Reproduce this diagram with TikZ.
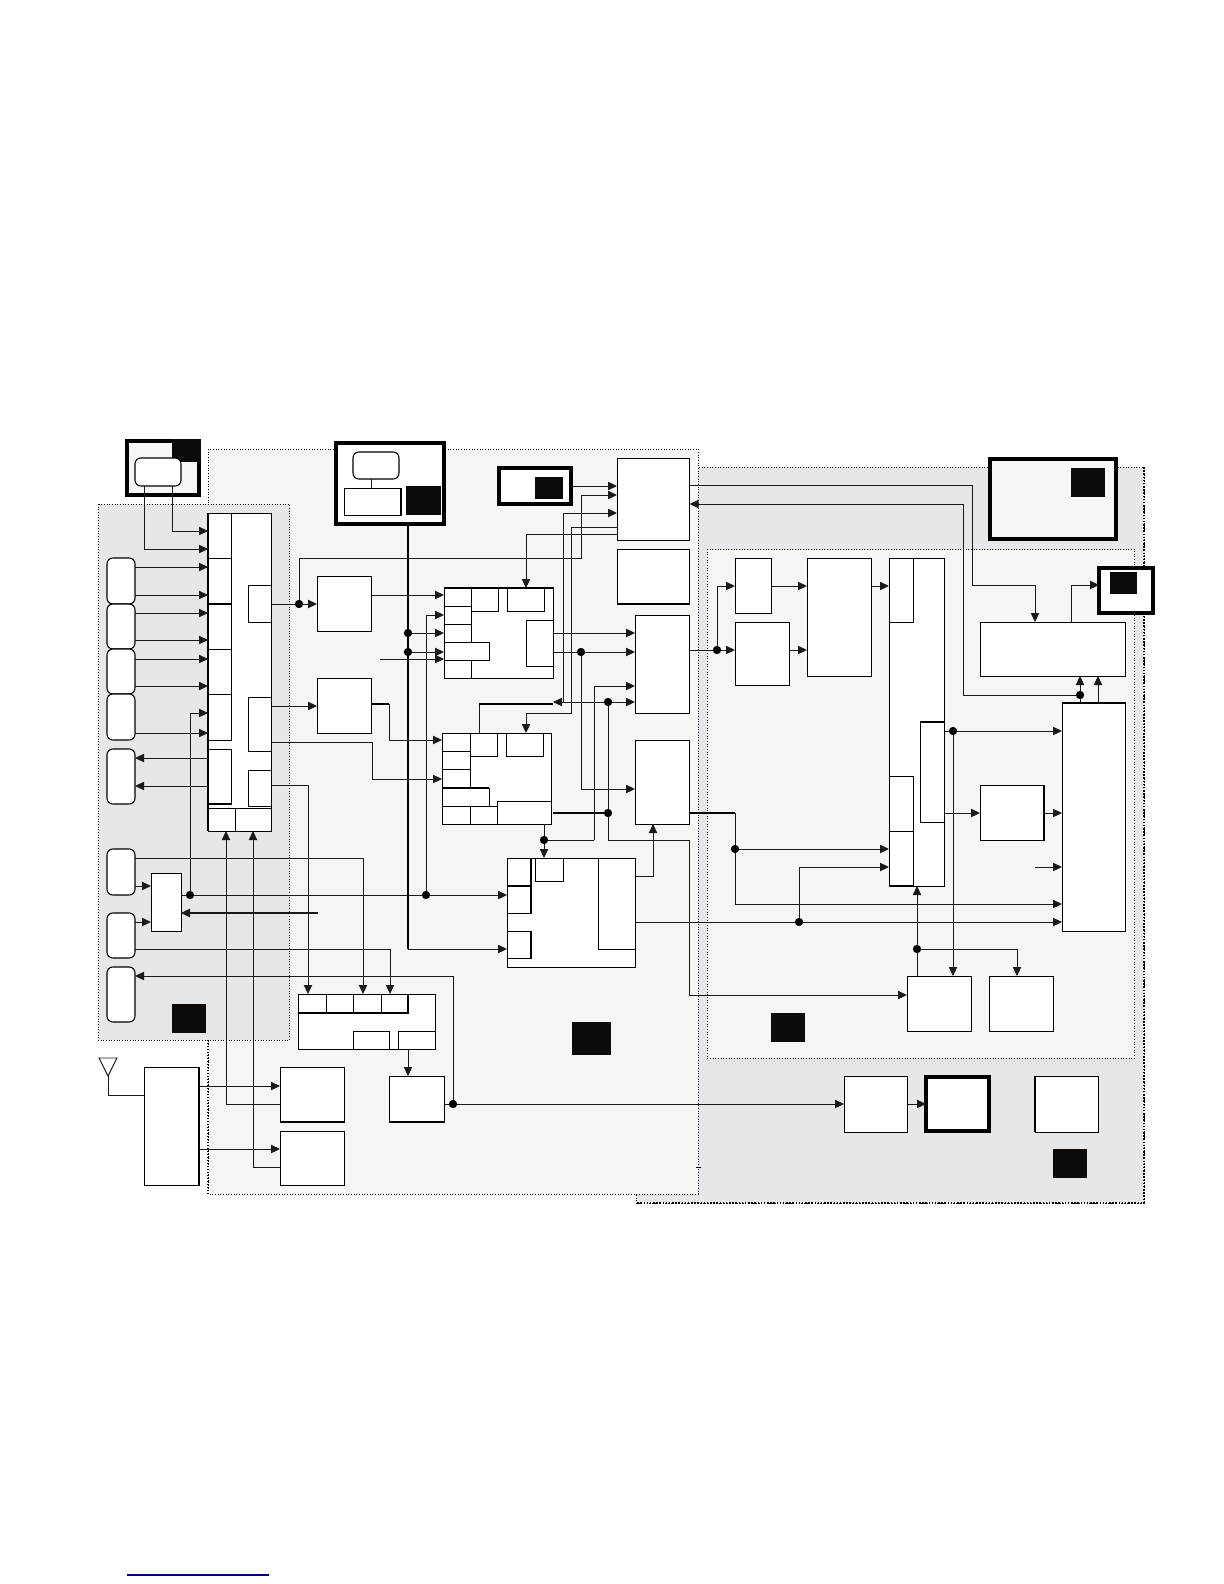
\documentclass[tikz,border=0pt]{standalone}
\usepackage{xcolor}
\usepackage{tikz}
\usetikzlibrary{arrows.meta,calc}
\definecolor{panelGray}{HTML}{E6E7E9}
\definecolor{panelPale}{HTML}{F6F6F5}
\definecolor{wireInk}{HTML}{1A1A1A}
\definecolor{maskInk}{HTML}{0C0B0A}
\definecolor{linkNavy}{HTML}{000080}
\newcommand{\pxu}{0.6pt}
\tikzset{
    >={Triangle[length=5.4pt,width=5pt]},
    pane/.style={draw=black, densely dotted, line width=0.6pt},
    blk/.style={draw=black, fill=white, line width=0.55pt, inner sep=0pt, outer sep=0pt},
    heavy/.style={blk, line width=2.2pt},
    pad/.style={blk, rounded corners=3.5pt, line width=0.65pt},
    mask/.style={fill=maskInk, draw=none, inner sep=0pt, outer sep=0pt},
    dot/.style={circle, fill=black, inner sep=0pt, outer sep=0pt, minimum size=5pt},
    wire/.style={-, line width=0.55pt, draw=wireInk},
    arrow/.style={->, line width=0.55pt, draw=wireInk},
    edge/.style={line width=1.1pt, draw=black},
    bus/.style={-, line width=1.1pt, draw=black},
    busarrow/.style={->, line width=1pt, draw=black}
}
% box given by its two corners in pixels of the page
\newcommand{\pxbox}[6][blk]{\node[#1, minimum width={(#5-#3)*\pxu}, minimum height={(#6-#4)*\pxu}] (#2) at ({(#3+#5)/2},{(#4+#6)/2}) {};}
\begin{document}
\begin{tikzpicture}[x=0.6pt,y=-0.6pt]
\useasboundingbox (0,0) rectangle (1224,1584);
% panels
\draw[pane, fill=panelGray] (636,467) rectangle (1144,1203);
\draw[pane, line width=0.9pt] (1144,467) -- (1144,1203) -- (636,1203);
\draw[pane, fill=panelPale] (208,449) rectangle (698,1194);
\draw[pane, fill=panelPale] (707,549) rectangle (1134.5,1058);
\draw[pane, fill=panelGray] (98,504) rectangle (289.5,1040);
\draw[pane, line width=0.8pt] (208,1040) -- (208,1194);
\draw[line width=0.5pt] (696,1167) -- (701,1167);
\draw[line width=0.9pt, linkNavy] (127,1575) -- (269,1575);

% top left
\pxbox[heavy, fill=panelPale]{hdrbox}{127}{441}{199}{495}
\pxbox[mask]{hdrmask}{172}{439}{201}{462}
\pxbox[pad]{hdrpad}{135}{458}{181}{486}
% controller column
\pxbox{ctrl}{208}{513}{271}{831}
\pxbox{ctrlA}{208}{513}{231}{558}
\pxbox{ctrlB}{208}{558}{231}{604}
\pxbox{ctrlC}{208}{604}{231}{649}
\pxbox{ctrlD}{208}{649}{231}{694}
\pxbox{ctrlE}{208}{694}{231}{740}
\pxbox{ctrlF}{208}{749}{231}{804}
\pxbox{ctrlG}{208}{808}{235}{831}
\pxbox{ctrlH}{235}{808}{271}{831}
\pxbox{portA}{248}{585}{271}{622}
\pxbox{portB}{248}{697}{271}{751}
\pxbox{portC}{248}{770}{271}{806}
\draw[edge] (ctrl.north west) -- (ctrl.south west);
\draw[edge] (ctrlB.south west) -- (ctrlB.south east);
\draw[edge] (ctrlF.south west) -- (ctrlF.south east);
% left pads
\pxbox[pad]{padA}{107}{558}{135}{604}
\pxbox[pad]{padB}{107}{604}{135}{649}
\pxbox[pad]{padC}{107}{649}{135}{694}
\pxbox[pad]{padD}{107}{694}{135}{740}
\pxbox[pad]{padE}{107}{749}{135}{804}
\pxbox[pad]{padF}{107}{849}{135}{895}
\pxbox[pad]{padG}{107}{913}{135}{958}
\pxbox[pad]{padH}{107}{967}{135}{1022}
\pxbox{mux}{151}{873}{181}{931}
\pxbox[mask]{leftmask}{172}{1004}{206}{1033}
% antenna and tuner
\pxbox{rfbox}{144}{1067}{199}{1185}
\pxbox{rfA}{280}{1067}{344.5}{1122}
\pxbox{rfB}{280}{1131}{344.5}{1185}
\pxbox{drv}{389}{1076}{444.5}{1122}
\pxbox{bank}{298}{994}{435.5}{1049}
\pxbox{bankA}{298}{994}{326}{1013}
\pxbox{bankB}{326}{994}{353}{1013}
\pxbox{bankC}{353}{994}{381}{1013}
\pxbox{bankD}{381}{994}{408}{1013}
\pxbox{bankE}{353}{1031}{389}{1049}
\pxbox{bankF}{398}{1031}{435.5}{1049}
\draw[edge] (bankA.south west) -- (bankD.south east) -- (bankD.north east);
\draw[edge] (rfA.south west) -- (rfA.south east);
\draw[edge] (drv.south west) -- (drv.south east);
\draw[edge] (rfbox.north east) -- (rfbox.south east);
% top middle
\pxbox[heavy]{topbox}{336}{443}{444}{524}
\pxbox[pad]{toppad}{353}{452}{399}{479}
\pxbox{toprect}{344}{488}{401}{515}
\draw[edge] (toprect.north east) -- (toprect.south east);
\pxbox[mask]{topmask}{406}{486}{441}{515}
\pxbox[heavy]{smallbox}{499}{468}{571}{504}
\pxbox[mask]{smallmask}{535}{477}{563}{499}
\pxbox{boxA}{617}{458}{689.5}{540}
\pxbox{boxB}{617}{549}{689.5}{604}
\draw[edge] (boxB.south west) -- (boxB.south east);
\pxbox{boxC}{635}{615}{689.5}{713}
\pxbox{boxD}{635}{740}{689.5}{824}
\pxbox{chanH}{317}{576}{371.5}{631}
\pxbox{chanI}{317}{678}{371.5}{733}
% upper processor
\pxbox{procE}{444}{588}{553.5}{678}
\pxbox{procEa}{444}{588}{471}{606}
\pxbox{procEb}{444}{606}{471}{624}
\pxbox{procEc}{444}{624}{471}{642}
\pxbox{procEd}{444}{642}{489}{660}
\pxbox{procEe}{444}{660}{471}{678}
\pxbox{procEf}{471}{588}{498}{611}
\pxbox{procEg}{507}{588}{544}{611}
\pxbox{procEh}{526}{620}{553.5}{666}
\draw[edge] (procE.north west) -- (procE.north east);
% lower processor
\pxbox{procF}{442}{733}{551.5}{824}
\pxbox{procFa}{442}{733}{470}{751}
\pxbox{procFb}{442}{751}{470}{769}
\pxbox{procFc}{442}{769}{470}{788}
\pxbox{procFd}{442}{806}{470}{824}
\pxbox{procFe}{470}{806}{497}{824}
\pxbox{procFf}{442}{788}{489}{806}
\pxbox{procFg}{470}{733}{497}{756}
\pxbox{procFh}{506}{733}{543}{756}
\pxbox{procFi}{497}{801}{551.5}{824}
\draw[edge] (procFf.north west) -- (procFf.north east);
% mixer
\pxbox{mixG}{507}{858}{635.5}{967}
\pxbox{mixGa}{507}{858}{531}{886}
\pxbox{mixGb}{507}{886}{531}{913}
\pxbox{mixGc}{507}{931}{531}{958}
\pxbox{mixGd}{535}{858}{563}{881}
\pxbox{mixGe}{598}{858}{635.5}{949}
\draw[edge] (mixGa.north east) -- (mixGb.south east);
\draw[edge] (mixGb.north west) -- (mixGb.north east);
\draw[edge] (mixGc.north east) -- (mixGc.south east);
\pxbox[mask]{midmask}{572}{1022}{611}{1055}
% right side
\pxbox[heavy, fill=panelPale]{bigbox}{990}{459}{1116}{539}
\pxbox[mask]{bigmask}{1071}{468}{1105}{497}
\pxbox[heavy]{tinybox}{1099}{568}{1153}{613}
\pxbox[mask]{tinymask}{1110}{572}{1137}{594}
\pxbox{boxK}{735}{558}{771.5}{613}
\pxbox{boxL}{735}{622}{789.5}{685}
\pxbox{boxM}{807}{558}{871.5}{676}
\pxbox{colN}{889}{558}{944.5}{886}
\pxbox{colNa}{889}{558}{913}{622}
\pxbox{colNb}{889}{776}{913}{831}
\pxbox{colNc}{889}{831}{913}{886}
\draw[edge] (colNc.south west) -- (colNc.south east);
\pxbox{colNd}{920}{722}{944.5}{822}
\draw[edge] (colNd.north west) -- (colNd.north east) -- (colNd.south east);
\pxbox{wideJ}{980}{622}{1125.5}{676}
\pxbox{colO}{1062}{703}{1125.5}{931}
\draw[edge] (colO.north west) -- (colO.north east);
\pxbox{boxP}{980}{785}{1044}{840}
\draw[edge] (boxP.north east) -- (boxP.south east);
\pxbox{boxQ}{907}{976}{971.5}{1031}
\pxbox{boxR}{989}{976}{1053.5}{1031}
\pxbox[mask]{rightmask}{771}{1013}{805}{1042}
\pxbox{boxS}{844}{1076}{907.5}{1132}
\pxbox[heavy]{boxT}{926}{1077}{989}{1131}
\pxbox{boxU}{1035}{1076}{1098.5}{1132}
\draw[edge] (boxU.north west) -- (boxU.south west);
\pxbox[mask]{lowmask}{1053}{1149}{1087}{1178}

% junctions
\node[dot] (jA) at (299,604) {};
\node[dot] (jB) at (408,633) {};
\node[dot] (jC) at (408,652) {};
\node[dot] (jD) at (190,895) {};
\node[dot] (jE) at (426,895) {};
\node[dot] (jF) at (453,1104) {};
\node[dot] (jG) at (581,652) {};
\node[dot] (jH) at (608,702) {};
\node[dot] (jI) at (608,813) {};
\node[dot] (jJ) at (544,840) {};
\node[dot] (jK) at (717,650) {};
\node[dot] (jL) at (953,731) {};
\node[dot] (jM) at (1080,695) {};
\node[dot] (jN) at (735,849) {};
\node[dot] (jO) at (799,922) {};
\node[dot] (jP) at (917,949) {};
% free ends
\coordinate (busin) at (380,659);
\coordinate (muxin) at (318,913);
\coordinate (colin) at (1035,867);

% antenna
\coordinate (antapex) at (108,1076);
\draw[wire] (99,1058) -- (117,1058) -- (antapex) -- cycle;
\draw[wire] (antapex) -- (108,1095) -- (rfbox.west |- 0,1095);
\draw[arrow] (rfbox.east |- 0,1086) -- (rfA.west |- 0,1086);
\draw[arrow] (rfbox.east |- 0,1149) -- (rfB.west |- 0,1149);
\draw[arrow] (rfA.west |- 0,1104) -- (226,1104) -- (226,0 |- ctrl.south);
\draw[arrow] (rfB.west |- 0,1167) -- (253,1167) -- (253,0 |- ctrl.south);
% top left links
\draw[arrow] (172,0 |- hdrpad.south) -- (172,531) -- (ctrl.west |- 0,531);
\draw[arrow] (144,0 |- hdrpad.south) -- (144,549) -- (ctrl.west |- 0,549);
% pads to controller
\foreach \src/\yy in {padA/567,padA/595,padB/613,padB/640,padC/659,padC/686,padD/733}{
    \draw[arrow] (\src.east |- 0,\yy) -- (ctrl.west |- 0,\yy);
}
\draw[arrow] (ctrl.west |- 0,758) -- (padE.east |- 0,758);
\draw[arrow] (ctrl.west |- 0,786) -- (padE.east |- 0,786);
\draw[arrow] (padF.east |- 0,886) -- (mux.west |- 0,886);
\draw[arrow] (padG.east |- 0,922) -- (mux.west |- 0,922);
\draw[arrow, line width=0.7pt] (muxin) -- (mux.east |- muxin);
\draw[wire] (mux.east |- jD) -- (jD);
\draw[arrow] (jD) -- (jD |- 0,713) -- (ctrl.west |- 0,713);
\draw[wire] (jD) -- (jE);
\draw[arrow] (jE) -- (mixG.west |- jE);
\draw[arrow] (jE) -- (jE |- 0,615) -- (procE.west |- 0,615);
\draw[arrow] (padF.east |- 0,858) -- (363,858) -- (363,0 |- bank.north);
\draw[arrow] (padG.east |- 0,949) -- (390,949) -- (390,0 |- bank.north);
\draw[arrow] (jF) -- (453,976) -- (padH.east |- 0,976);
% controller outputs
\draw[wire] (ctrl.east |- jA) -- (jA);
\draw[arrow] (jA) -- (chanH.west |- jA);
\draw[arrow] (jA) -- (jA |- 0,558) -- (581,558) -- (581,495) -- (boxA.west |- 0,495);
\draw[arrow] (ctrl.east |- 0,706) -- (chanI.west |- 0,706);
\draw[arrow] (ctrl.east |- 0,742) -- (372,742) -- (372,779) -- (procF.west |- 0,779);
\draw[arrow] (ctrl.east |- 0,785) -- (308,785) -- (308,0 |- bank.north);
\draw[arrow] (chanH.east |- 0,595) -- (procE.west |- 0,595);
\draw[bus] (chanI.east |- 0,704) -- (389,704);
\draw[arrow] (389,704) -- (389,740) -- (procF.west |- 0,740);
% top bus
\draw[wire] (toppad.south -| 371,0) -- (toprect.north -| 371,0);
\draw[bus] (408,0 |- topbox.south) -- (408,949);
\draw[arrow] (408,949) -- (mixG.west |- 0,949);
\draw[arrow] (jB) -- (procE.west |- jB);
\draw[arrow] (jC) -- (procE.west |- jC);
\draw[arrow] (busin) -- (procE.west |- busin);
\draw[arrow] (bank.south -| 408,0) -- (drv.north -| 408,0);
\draw[wire] (drv.east |- jF) -- (jF);
\draw[arrow] (jF) -- (boxS.west |- jF);
\draw[arrow] (boxS.east |- jF) -- (boxT.west |- jF);
% box A links
\draw[arrow] (smallbox.east |- 0,486) -- (boxA.west |- 0,486);
\draw[arrow] (563,702) -- (563,513) -- (boxA.west |- 0,513);
\draw[wire] (boxA.west |- 0,527) -- (571,527) -- (571,713) -- (526,713);
\draw[arrow] (526,713) -- (526,0 |- procF.north);
\draw[arrow] (boxA.west |- 0,534) -- (526,534) -- (526,0 |- procE.north);
\draw[wire] (479,0 |- procF.north) -- (479,704);
\draw[bus] (479,704) -- (553,704);
\draw[arrow] (jH) -- (553,702);
\draw[arrow] (jH) -- (boxC.west |- jH);
\draw[wire] (jH) -- (jI);
\draw[bus] (553,813) -- (jI);
\draw[wire] (jI) -- (608,840) -- (689,840) -- (689,995);
\draw[arrow] (689,995) -- (boxQ.west |- 0,995);
\draw[arrow] (jJ) -- (jJ |- mixG.north);
\draw[wire] (jJ |- procF.south) -- (jJ);
\draw[wire] (jJ) -- (594,840);
\draw[arrow] (594,840) -- (594,686) -- (boxC.west |- 0,686);
\draw[arrow] (procE.east |- 0,633) -- (boxC.west |- 0,633);
\draw[wire] (procE.east |- jG) -- (jG);
\draw[arrow] (jG) -- (boxC.west |- jG);
\draw[arrow] (jG) -- (jG |- 0,789) -- (boxD.west |- 0,789);
\draw[arrow] (mixG.east |- 0,876) -- (653,876) -- (653,0 |- boxD.south);
% right side links
\draw[arrow] (boxA.east |- 0,485) -- (972,485) -- (972,585) -- (1035,585) -- (1035,0 |- wideJ.north);
\draw[arrow] (jM) -- (963,695) -- (963,504) -- (boxA.east |- 0,504);
\draw[arrow] (1071,0 |- wideJ.north) -- (1071,585) -- (tinybox.west |- 0,585);
\draw[wire] (boxC.east |- jK) -- (jK);
\draw[arrow] (jK) -- (boxL.west |- jK);
\draw[arrow] (jK) -- (jK |- 0,586) -- (boxK.west |- 0,586);
\draw[arrow] (boxK.east |- 0,586) -- (boxM.west |- 0,586);
\draw[arrow] (boxL.east |- 0,650) -- (boxM.west |- 0,650);
\draw[arrow] (boxM.east |- 0,586) -- (colN.west |- 0,586);
\draw[wire] (colN.east |- jL) -- (jL);
\draw[arrow] (jL) -- (colO.west |- jL);
\draw[arrow] (jL) -- (jL |- boxQ.north);
\draw[arrow] (colN.east |- 0,813) -- (boxP.west |- 0,813);
\draw[arrow] (boxP.east |- 0,813) -- (colO.west |- 0,813);
\draw[arrow] (colin) -- (colO.west |- colin);
\draw[wire] (jM |- colO.north) -- (jM);
\draw[arrow] (jM) -- (jM |- wideJ.south);
\draw[arrow] (1098,0 |- colO.north) -- (1098,0 |- wideJ.south);
\draw[bus] (boxD.east |- 0,813) -- (735,813);
\draw[wire] (735,813) -- (jN);
\draw[arrow] (jN) -- (colN.west |- jN);
\draw[wire] (jN) -- (735,904);
\draw[arrow] (735,904) -- (colO.west |- 0,904);
\draw[wire] (mixG.east |- jO) -- (jO);
\draw[arrow] (jO) -- (colO.west |- jO);
\draw[arrow] (jO) -- (jO |- 0,867) -- (colN.west |- 0,867);
\draw[wire] (jP |- boxQ.north) -- (jP);
\draw[arrow] (jP) -- (jP |- colN.south);
\draw[arrow] (jP) -- (1017,949) -- (1017,0 |- boxR.north);
\end{tikzpicture}
\end{document}
